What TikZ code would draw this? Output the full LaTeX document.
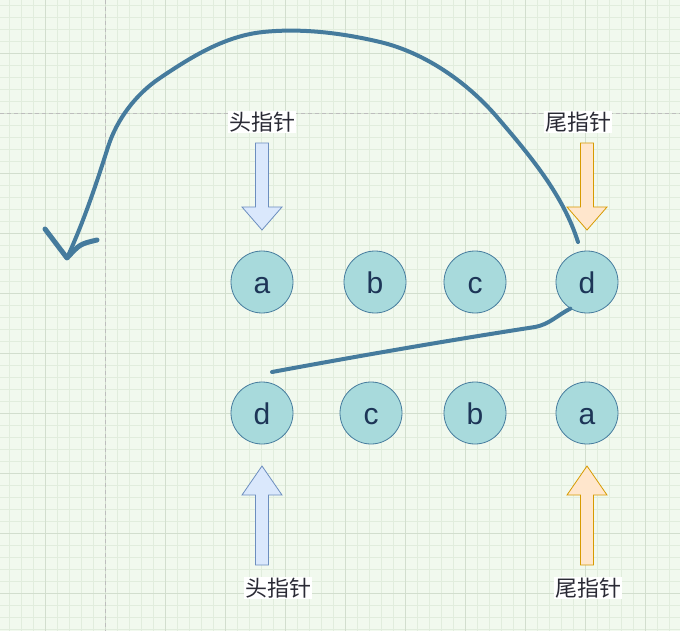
\documentclass[tikz,border=0pt]{standalone}
\usepackage{fontspec}
\setmainfont{Liberation Sans}
\newfontfamily\cjkfont{Noto Sans CJK SC}
\usetikzlibrary{arrows.meta}

\definecolor{bgcolor}{HTML}{F1F9EE}
\definecolor{minorcolor}{HTML}{E1EDDD}
\definecolor{majorcolor}{HTML}{D2DECE}
\definecolor{guidecolor}{HTML}{BDBDBD}
\definecolor{circlefill}{HTML}{A8DADC}
\definecolor{circlestroke}{HTML}{457B9D}
\definecolor{lettercolor}{HTML}{1D3557}
\definecolor{linkcolor}{HTML}{457B9D}
\definecolor{labelcolor}{HTML}{2A2A35}
\definecolor{headfill}{HTML}{DAE8FC}
\definecolor{headstroke}{HTML}{6C8EBF}
\definecolor{tailfill}{HTML}{FFE6CC}
\definecolor{tailstroke}{HTML}{D79B00}

\tikzset{
  minorgrid/.style={draw=minorcolor, line width=0.5pt},
  majorgrid/.style={draw=majorcolor, line width=0.8pt},
  guide/.style={draw=guidecolor, line width=0.8pt, dash pattern=on 4pt off 3pt},
  elem/.style={circle, draw=circlestroke, fill=circlefill, line width=0.8pt, minimum size=62pt, inner sep=0pt, text=lettercolor, text height=23pt, text depth=0pt, font=\fontsize{30}{30}\selectfont},
  ptrlabel/.style={fill=white, inner sep=1pt, text=labelcolor, font=\cjkfont\fontsize{22}{22}\selectfont},
  headarrow/.style={draw=headstroke, fill=headfill, line width=0.8pt},
  tailarrow/.style={draw=tailstroke, fill=tailfill, line width=0.8pt},
  link/.style={draw=linkcolor, line width=4pt, line cap=round, line join=round},
}

\begin{document}
\begin{tikzpicture}[x=1pt,y=-1pt]
  \useasboundingbox (0,0) rectangle (680,631);
  % background and grid
  \fill[bgcolor] (0,0) rectangle (680,631);
  \foreach \x in {9,21,...,669} \draw[minorgrid] (\x,0) -- (\x,631);
  \foreach \y in {5,17,...,629} \draw[minorgrid] (0,\y) -- (680,\y);
  \foreach \x in {45,105,...,645} \draw[majorgrid] (\x,0) -- (\x,631);
  \foreach \y in {53,113,...,593} \draw[majorgrid] (0,\y) -- (680,\y);
  \draw[guide] (105,0) -- (105,631);
  \draw[guide] (0,113) -- (680,113);

  % pointer labels
  \node[ptrlabel] (headtop) at (262,122) {头指针};
  \node[ptrlabel] (tailtop) at (578,122) {尾指针};
  \node[ptrlabel] (headbot) at (278,588) {头指针};
  \node[ptrlabel] (tailbot) at (588,588) {尾指针};

  % block arrows
  \foreach \x/\s in {262/headarrow,587/tailarrow}
    \draw[\s] (\x,230) -- ++(20,-23) -- ++(-13.5,0) -- ++(0,-64) -- ++(-13,0) -- ++(0,64) -- ++(-13.5,0) -- cycle;
  \foreach \x/\s in {262/headarrow,587/tailarrow}
    \draw[\s] (\x,466) -- ++(20,29) -- ++(-13.5,0) -- ++(0,70) -- ++(-13,0) -- ++(0,-70) -- ++(-13.5,0) -- cycle;

  % list before
  \node[elem] (a1) at (262,282) {a};
  \node[elem] (b1) at (375,282) {b};
  \node[elem] (c1) at (475,282) {c};
  \node[elem] (d1) at (587,282) {d};
  % list after
  \node[elem] (d2) at (262,413) {d};
  \node[elem] (c2) at (371,413) {c};
  \node[elem] (b2) at (475,413) {b};
  \node[elem] (a2) at (587,413) {a};

  % hand drawn links
  \coordinate (loopstart) at (578,242);
  \coordinate (looptip) at (67,258);
  \draw[link] (loopstart) .. controls (563,194.5) and (529.5,155) .. (497,117)
    .. controls (467,82) and (424.6,52.6) .. (380,42)
    .. controls (342,33) and (302,28) .. (263,32)
    .. controls (225,36) and (191.5,56.7) .. (160,78)
    .. controls (136,94) and (116.7,119.5) .. (108,147)
    .. controls (96.3,184) and (83.4,222.5) .. (looptip);
  \draw[link, line width=5pt] (45,229) -- (looptip) .. controls (80,244) .. (97,240);
  \coordinate (swapstart) at (272,372);
  \draw[link] (swapstart) .. controls (380,352) and (470,337) .. (535,327)
    .. controls (550,324) and (556,316) .. (d1.238);
\end{tikzpicture}
\end{document}
